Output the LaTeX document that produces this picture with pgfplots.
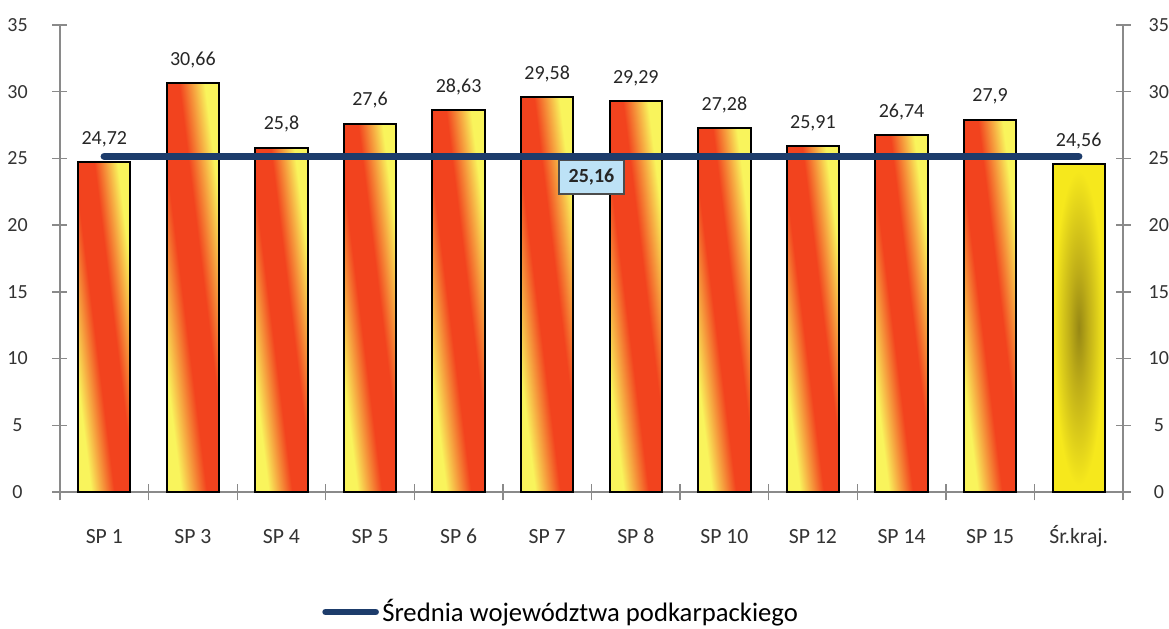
\documentclass[border=0pt]{standalone}
\usepackage{pgfplots}
\usepackage{pgfplotstable}
\pgfplotsset{compat=1.18}
\usepackage{fontspec}
\setmainfont{Carlito}

\definecolor{barred}{HTML}{F2431E}
\definecolor{barylw}{HTML}{F9F45C}
\definecolor{kraj}{HTML}{F6E81C}
\definecolor{krajdark}{HTML}{978814}
\definecolor{krajmid}{HTML}{BFAE18}
\definecolor{avgline}{HTML}{1D3C6B}
\definecolor{axisgray}{HTML}{8A8A8A}
\definecolor{boxblue}{HTML}{BDE2F6}

% red band from top-left to bottom-right, yellow in the two other corners
\pgfdeclarehorizontalshading{spbar}{100bp}{color(0bp)=(barylw); color(30bp)=(barylw); color(44bp)=(barred); color(56bp)=(barred); color(70bp)=(barylw); color(100bp)=(barylw)}
\pgfdeclareradialshading{krajbar}{\pgfpoint{0bp}{0bp}}{color(0bp)=(krajdark); color(9bp)=(krajmid); color(24bp)=(kraj); color(50bp)=(kraj)}

\pgfplotstableread{
x val
0 24.72
1 30.66
2 25.8
3 27.6
4 28.63
5 29.58
6 29.29
7 27.28
8 25.91
9 26.74
10 27.9
}\sptable

\pgfplotstableread{
x val
11 24.56
}\krajtable

\pgfplotsset{
  common/.style={
    scale only axis, width=637.8pt, height=280.2pt,
    xmin=-0.5, xmax=11.5, ymin=0, ymax=35,
    ytick={0,5,...,35},
    tick align=center, major tick length=9pt,
    tick style={axisgray, line width=0.8pt},
    axis line style={axisgray, line width=0.8pt},
    /pgf/number format/assume math mode=true,
    y tick label style={font=\fontsize{12}{14}\selectfont, text=black!80, inner sep=0pt},
  },
  spbar/.style={ybar, bar width=0.59, bar shift=0pt, draw=black, line width=1.2pt,
    forget plot, nodes near coords},
}

\begin{document}
\begin{tikzpicture}
\begin{axis}[
  common,
  axis x line*=bottom, axis y line*=left,
  xtick={0,...,11},
  xticklabels={SP 1,SP 3,SP 4,SP 5,SP 6,SP 7,SP 8,SP 10,SP 12,SP 14,SP 15,Śr.kraj.},
  major x tick style={draw=none},
  minor xtick={-0.5,0.5,...,11.5},
  minor tick length=10pt,
  x tick label style={font=\fontsize{13}{15}\selectfont, text=black!80, anchor=center, yshift=-22pt},
  y tick label style={anchor=center, xshift=-21pt},
  clip=false,
  legend style={at={(0.472,-0.257)}, anchor=center, draw=none, fill=none,
    font=\fontsize{16}{18}\selectfont, inner sep=0pt,
    /tikz/every even column/.append style={column sep=2pt}},
  legend image code/.code={\draw[#1, line width=4pt, line cap=round] (0pt,0pt) -- (30pt,0pt);},
  nodes near coords style={font=\fontsize{12}{14}\selectfont, text=black!85, anchor=center, yshift=14pt,
    /pgf/number format/.cd, use comma, fixed, precision=2},
]
% one plot per bar, so that each bar gets its own shading
\pgfplotsinvokeforeach{0,...,10}{
  \addplot[spbar, shading=spbar, shading angle=7, restrict x to domain=#1:#1]
    table[x=x, y=val] {\sptable};
}
\addplot[spbar, shading=krajbar]
  table[x=x, y=val] {\krajtable};
\addplot[avgline, line width=4.5pt, line cap=round, mark=none]
  coordinates {(0,25.16) (11,25.16)}
  node[pos=0.5, yshift=-12.6pt, fill=boxblue, draw=black!70, text=black!85, line width=0.8pt,
    font=\bfseries\fontsize{12}{14}\selectfont, inner sep=0pt, minimum width=39pt, minimum height=20pt] {25,16};
\addlegendentry{Średnia województwa podkarpackiego}
\end{axis}
\begin{axis}[
  common,
  axis x line=none, axis y line*=right,
  y tick label style={anchor=center, xshift=17pt},
]
\end{axis}
\pgfresetboundingbox
\path[use as bounding box] ([shift={(-36pt,-82.2pt)}]current axis.south west) rectangle ([shift={(27.6pt,15pt)}]current axis.north east);
\end{tikzpicture}
\end{document}
